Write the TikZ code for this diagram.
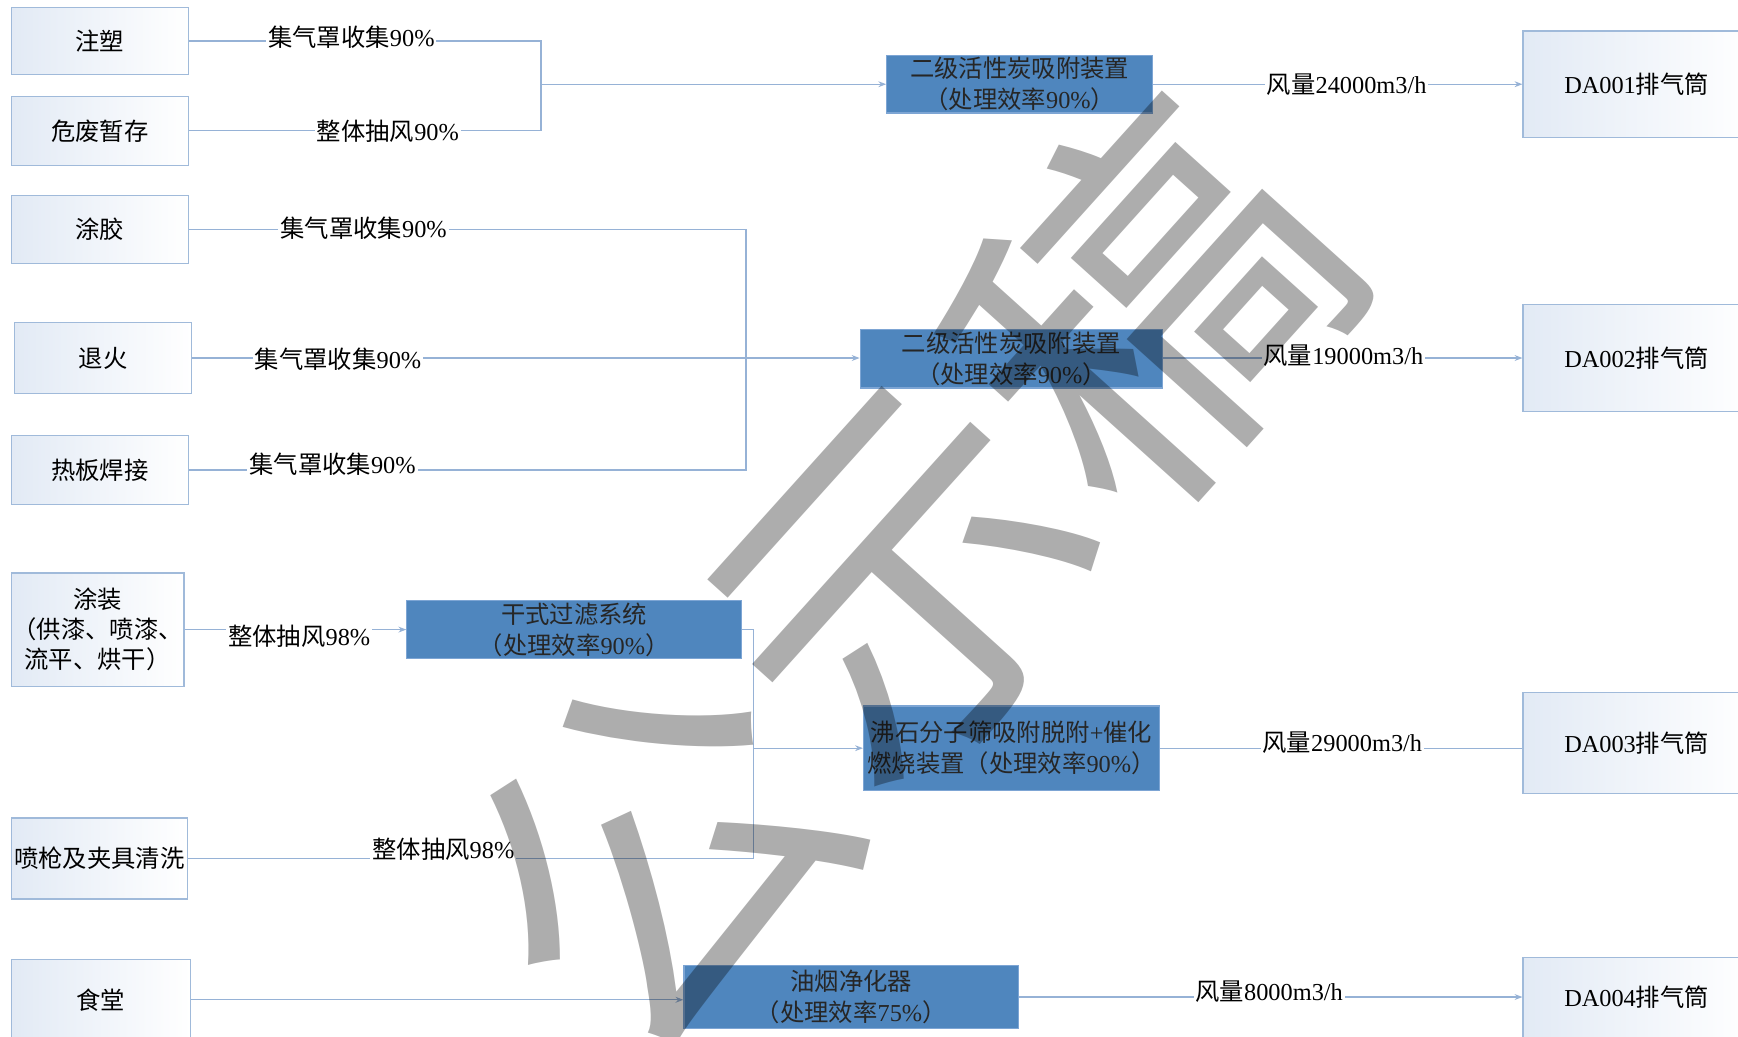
\documentclass[tikz,border=0pt]{standalone}
\usepackage{fontspec}
\setmainfont{Liberation Serif}
\newfontfamily\cjk{Noto Sans CJK SC}
\newcommand\zh[1]{{\cjk #1}}
\usetikzlibrary{arrows.meta,positioning}

\definecolor{boxline}{RGB}{160,186,218}
\definecolor{boxtint}{RGB}{226,234,245}
\definecolor{unitfill}{RGB}{79,134,190}
\definecolor{unitline}{RGB}{125,165,212}
\definecolor{pipecol}{RGB}{150,178,214}

\tikzset{
  src/.style={draw=boxline, line width=0.6pt, left color=boxtint, right color=white,
    inner sep=0pt, align=center, font=\fontsize{12.5}{15.5}\selectfont},
  unit/.style={draw=unitline, line width=0.6pt, fill=unitfill, text=black!85,
    inner sep=0pt, align=center, font=\fontsize{12.5}{16}\selectfont},
  pipe/.style={draw=pipecol, line width=0.6pt},
  flow/.style={pipe, -{Stealth[length=4pt,width=3pt]}},
  lbl/.style={fill=white, inner sep=1pt, font=\fontsize{12.5}{15}\selectfont},
  wmark/.style={text=black, text opacity=0.32, inner sep=0pt, font=\cjk\fontsize{190}{190}\selectfont}
}

\begin{document}
\begin{tikzpicture}[x=0.02cm, y=-0.02cm]
\clip (0,0) rectangle (1568,935);
\fill[white] (0,0) rectangle (1568,935);

% Sources
\node[src, minimum width=3.2cm, minimum height=1.2cm] (zs) at (90,37) {\zh{注塑}};
\node[src, minimum width=3.2cm, minimum height=1.24cm] (wf) at (90,118) {\zh{危废暂存}};
\node[src, minimum width=3.2cm, minimum height=1.22cm] (tj) at (90,207) {\zh{涂胶}};
\node[src, minimum width=3.2cm, minimum height=1.28cm] (th) at (93,323) {\zh{退火}};
\node[src, minimum width=3.2cm, minimum height=1.24cm] (rb) at (90,424) {\zh{热板焊接}};
\node[src, minimum width=3.12cm, minimum height=2.04cm] (tz) at (88,568) {\zh{涂装}\\\zh{（供漆、喷漆、}\\\zh{流平、烘干）}};
\node[src, minimum width=3.18cm, minimum height=1.46cm] (pq) at (89.5,774.5) {\zh{喷枪及夹具清洗}};
\node[src, minimum width=3.24cm, minimum height=1.44cm] (st) at (91,902) {\zh{食堂}};

% Treatment units
\node[unit, minimum width=4.8cm, minimum height=1.04cm] (b1) at (920,76) {\zh{二级活性炭吸附装置}\\\zh{（处理效率}90\%\zh{）}};
\node[unit, minimum width=5.46cm, minimum height=1.06cm] (b2) at (912.5,323.5) {\zh{二级活性炭吸附装置}\\\zh{（处理效率}90\%\zh{）}};
\node[unit, minimum width=6.04cm, minimum height=1.04cm] (gs) at (518,568) {\zh{干式过滤系统}\\\zh{（处理效率}90\%\zh{）}};
\node[unit, minimum width=5.34cm, minimum height=1.52cm] (fs) at (912.5,675) {\zh{沸石分子筛吸附脱附}+\zh{催化}\\\zh{燃烧装置（处理效率}90\%\zh{）}};
\node[unit, minimum width=6.04cm, minimum height=1.14cm] (yy) at (768,899.5) {\zh{油烟净化器}\\\zh{（处理效率}75\%\zh{）}};

% Stacks (cut by the right edge)
\node[src, minimum width=4.1cm, minimum height=1.92cm] (da1) at (1476.5,76) {DA001\zh{排气筒}};
\node[src, minimum width=4.1cm, minimum height=1.92cm] (da2) at (1476.5,323) {DA002\zh{排气筒}};
\node[src, minimum width=4.1cm, minimum height=1.82cm] (da3) at (1476.5,670.5) {DA003\zh{排气筒}};
\node[src, minimum width=4.1cm, minimum height=1.44cm] (da4) at (1476.5,900) {DA004\zh{排气筒}};

% Junctions
\coordinate (j1) at (488,76);
\coordinate (j2) at (673,323);
\coordinate (j3) at (680,675);

% Connectors
\draw[pipe] (zs.east) -- (zs.east -| j1) -- (wf.east -| j1) -- (wf.east);
\draw[flow] (j1) -- (j1 -| b1.west);
\draw[flow] (b1.east) -- (b1.east -| da1.west);

\draw[pipe] (tj.east) -- (tj.east -| j2) -- (rb.east -| j2) -- (rb.east);
\draw[flow] (th.east) -- (th.east -| b2.west);
\draw[flow] (b2.east |- th.east) -- (th.east -| da2.west);

\draw[flow] (tz.east) -- (tz.east -| gs.west);
\draw[pipe] (gs.east) -- (gs.east -| j3) -- (pq.east -| j3) -- (pq.east);
\draw[flow] (j3) -- (j3 -| fs.west);
\draw[pipe] (fs.east) -- (fs.east -| da3.west);

\draw[flow] (st.east) -- (st.east -| yy.west);
\draw[flow] (yy.east) -- (yy.east -| da4.west);

% Labels
\node[lbl] (l1) at (317,34) {\zh{集气罩收集}90\%};
\node[lbl] (l2) at (350,118) {\zh{整体抽风}90\%};
\node[lbl] (l3) at (328,206) {\zh{集气罩收集}90\%};
\node[lbl] (l4) at (305,324) {\zh{集气罩收集}90\%};
\node[lbl] (l5) at (300,419) {\zh{集气罩收集}90\%};
\node[lbl] (l6) at (270,574) {\zh{整体抽风}98\%};
\node[lbl] (l7) at (400,766) {\zh{整体抽风}98\%};
\node[lbl] (q1) at (1215,76) {\zh{风量}24000m3/h};
\node[lbl] (q2) at (1212,321) {\zh{风量}19000m3/h};
\node[lbl] (q3) at (1211,670) {\zh{风量}29000m3/h};
\node[lbl] (q4) at (1145,895) {\zh{风量}8000m3/h};

% Watermark
\node[wmark, rotate=48] (wm) at (812,522) {公示稿};
\end{tikzpicture}
\end{document}
